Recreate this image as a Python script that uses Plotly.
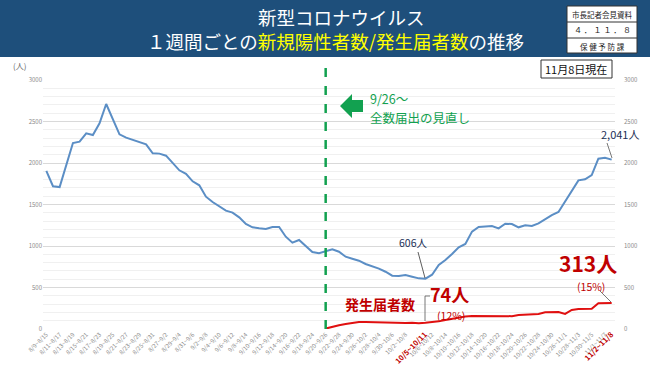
import datetime as dt
import plotly.graph_objects as go

# ---- data ----
start_first = dt.date(2022, 8, 9)
n_days = 86
categories = []
for d in range(n_days):
    a = start_first + dt.timedelta(days=d)
    b = a + dt.timedelta(days=6)
    categories.append(f"{a.month}/{a.day}~{b.month}/{b.day}")

new_positive = [1904, 1720, 1710, 1975, 2240, 2257, 2357, 2337, 2478, 2711,
                2518, 2345, 2305, 2277, 2249, 2225, 2117, 2113, 2088, 1996,
                1912, 1870, 1779, 1731, 1594, 1530, 1482, 1426, 1402, 1345,
                1265, 1225, 1213, 1205, 1229, 1229, 1112, 1040, 1072, 1000,
                928, 912, 935, 960, 931, 871, 847, 823, 783, 759,
                727, 690, 642, 639, 651, 630, 610, 606, 654, 771,
                831, 904, 985, 1024, 1173, 1229, 1233, 1241, 1213, 1269,
                1265, 1225, 1249, 1241, 1273, 1321, 1373, 1410, 1534, 1651,
                1791, 1804, 1855, 2052, 2064, 2041]

notified = [None] * 42 + [5, 28, 44, 60, 76, 84, 84, 82, 80, 76,
                          72, 68, 72, 76, 70, 74, 80, 92, 108, 122,
                          141, 150, 157, 157, 157, 155, 150, 150, 155, 169,
                          173, 177, 181, 201, 203, 205, 181, 229, 241, 241,
                          243, 309, 313, 313]

tick_idx = [i for i in range(0, 85, 2) if i != 56] + [57, 85]
tick_idx.sort()
highlight_idx = [57, 85]
y_ticks = [0, 500, 1000, 1500, 2000, 2500, 3000]

# ---- geometry helpers (pixels -> paper) ----
W, H = 650, 365
L, R, T, B = 43, 615, 80, 329
def xp(px):
    return (px - L) / (R - L)
def yp(py):
    return (B - py) / (B - T)

ticktext = []
for i in tick_idx:
    if i in highlight_idx:
        ticktext.append(f"<span style='color:#c00000;font-size:7.5px'><b>{categories[i]}</b></span>")
    else:
        ticktext.append(categories[i])
tickvals = [categories[i] for i in tick_idx]

fig = go.Figure()
fig.add_trace(go.Scatter(x=categories, y=new_positive, mode="lines",
                         line=dict(color="#5b8ec5", width=2), showlegend=False))
fig.add_trace(go.Scatter(x=categories, y=notified, mode="lines",
                         line=dict(color="#e01010", width=2), showlegend=False,
                         connectgaps=False))
fig.add_trace(go.Scatter(x=categories, y=[None]*n_days, yaxis="y2",
                         showlegend=False, hoverinfo="skip"))

font_jp = "Noto Sans CJK JP"
fig.update_layout(
    width=W, height=H,
    margin=dict(l=L, r=W - R, t=T, b=H - B, autoexpand=False),
    paper_bgcolor="white", plot_bgcolor="white",
    font=dict(family=font_jp),
    xaxis=dict(type="category", range=[-0.5, n_days - 0.5], automargin=False,
               tickmode="array", tickvals=tickvals, ticktext=ticktext,
               tickangle=-45, tickfont=dict(size=6, color="#8a8a8a"),
               showgrid=False, showline=False, zeroline=False, ticks=""),
    yaxis=dict(range=[0, 3000], tickvals=y_ticks, automargin=False,
               tickfont=dict(size=6, color="#8a8a8a"),
               gridcolor="#d9d9d9", gridwidth=1, zeroline=False,
               minor=dict(dtick=100, showgrid=True, gridcolor="#f0f0f0", gridwidth=1),
               showline=False, ticks=""),
    yaxis2=dict(range=[0, 3000], tickvals=y_ticks, overlaying="y", side="right",
                automargin=False,
                tickfont=dict(size=6, color="#8a8a8a"), showgrid=False,
                zeroline=False, ticklabelstandoff=8, ticks=""),
)

shapes = []
# title banner
shapes.append(dict(type="rect", xref="paper", yref="paper",
                   x0=xp(0), x1=xp(W), y0=yp(57), y1=yp(0),
                   fillcolor="#1e4f7b", line=dict(width=0), layer="below"))
# document box
bx0, bx1, by0, by1 = 567, 637, 6, 53
shapes.append(dict(type="rect", xref="paper", yref="paper",
                   x0=xp(bx0), x1=xp(bx1), y0=yp(by1), y1=yp(by0),
                   fillcolor="white", line=dict(color="#333333", width=1)))
for ly in (22, 38):
    shapes.append(dict(type="line", xref="paper", yref="paper",
                       x0=xp(bx0), x1=xp(bx1), y0=yp(ly), y1=yp(ly),
                       line=dict(color="#333333", width=1)))
# date box
shapes.append(dict(type="rect", xref="paper", yref="paper",
                   x0=xp(541), x1=xp(612), y0=yp(78), y1=yp(60),
                   fillcolor="white", line=dict(color="#333333", width=1)))
# green dashed divider at 9/26
shapes.append(dict(type="line", xref="x", yref="paper",
                   x0=categories[42], x1=categories[42], y0=0, y1=yp(60),
                   line=dict(color="#12a150", width=2.5, dash="dash")))
# green arrow
ax = [340, 352, 352, 363, 363, 352, 352]
ay = [106, 94, 100, 100, 112, 112, 118]
path = "M " + " L ".join(f"{xp(a)},{yp(b)}" for a, b in zip(ax, ay)) + " Z"
shapes.append(dict(type="path", xref="paper", yref="paper", path=path,
                   fillcolor="#12a150", line=dict(width=0)))
# leader lines
def seg(x0, y0, x1, y1, color, width=0.8):
    return dict(type="line", xref="paper", yref="paper",
                x0=xp(x0), y0=yp(y0), x1=xp(x1), y1=yp(y1),
                line=dict(color=color, width=width))
shapes.append(seg(418, 252, 425, 278, "#333333"))
shapes.append(seg(607, 143, 612, 158, "#555555"))
shapes.append(seg(600, 291, 611, 302, "#555555"))
shapes.append(seg(425, 321, 425, 296, "#555555"))
shapes.append(seg(425, 296, 430, 296, "#555555"))
fig.update_layout(shapes=shapes)

ann = []
def text(x, y, s, size, color, xanchor="center", yanchor="middle", family=font_jp):
    ann.append(dict(x=xp(x), y=yp(y), xref="paper", yref="paper", text=s,
                    showarrow=False, xanchor=xanchor, yanchor=yanchor,
                    font=dict(size=size, color=color, family=family)))

text(341, 17, "新型コロナウイルス", 18.5, "white")
text(336, 41, "１週間ごとの<span style='color:#ffff00'>新規陽性者数/発生届者数</span>の推移", 18.5, "white")
text(602, 14, "市長記者会見資料", 7.5, "#222222")
text(602, 30, "４ ． １ １ ． ８", 8, "#222222")
text(602, 46, "保 健 予 防 課", 7.5, "#222222")
text(576, 69, "11月8日現在", 11, "#111111")
text(19, 66, "(人)", 8, "#666666")
text(368, 98, "9/26～", 12.5, "#12a150", xanchor="left")
text(368, 117, "全数届出の見直し", 12.5, "#12a150", xanchor="left")
text(413, 243, "606人", 10.5, "#1c2f56")
text(620, 134, "2,041人", 11, "#1c2f56")
text(588, 263, "<b>313人</b>", 21, "#c00000")
text(591, 286, "(15%)", 10.5, "#c00000")
text(449, 294, "<b>74人</b>", 18, "#c00000")
text(451, 315, "(12%)", 10.5, "#c00000")
text(380, 304, "<b>発生届者数</b>", 14, "#c00000")
fig.update_layout(annotations=ann)

fig.write_html("out.html", config={"displayModeBar": False},
               post_script="document.body.style.margin='0';document.body.style.overflow='hidden';")
